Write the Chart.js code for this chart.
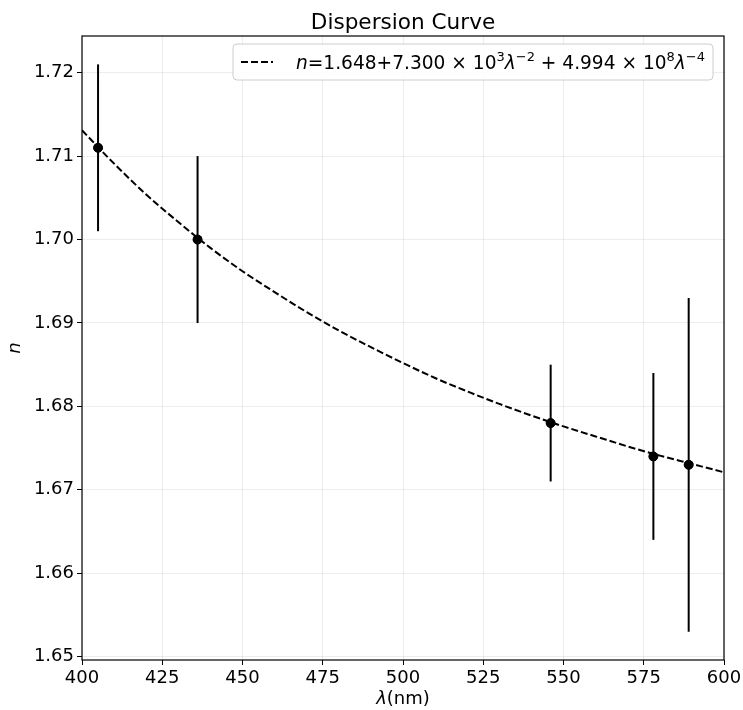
<!DOCTYPE html>
<html lang="en">
<head>
    <meta charset="UTF-8">
    <title>Dispersion Curve</title>
    <script src="https://cdn.jsdelivr.net/npm/chart.js"></script>
    <style>
        body { margin: 0; background: #fff; }
        #wrap { width: 743px; height: 710px; }
    </style>
</head>
<body>
    <div id="wrap"><canvas id="chart" width="743" height="710"></canvas></div>

    <script>
        // measured points (wavelength nm, refractive index, error)
        const wavelengths = [405, 436, 546, 578, 589];
        const indices = [1.711, 1.700, 1.678, 1.674, 1.673];
        const errors = [0.010, 0.010, 0.007, 0.010, 0.020];

        // fitted curve
        const fitX = [400, 410, 420, 430, 440, 450, 460, 470, 480, 490, 500, 510, 520, 530, 540, 550, 560, 570, 580, 590, 600];
        const fitY = [1.7131, 1.7091, 1.7054, 1.7021, 1.6990, 1.6962, 1.6937, 1.6913, 1.6891, 1.6871, 1.6852,
                      1.6834, 1.6818, 1.6803, 1.6789, 1.6776, 1.6764, 1.6752, 1.6741, 1.6731, 1.6721];

        const xTicks = [400, 425, 450, 475, 500, 525, 550, 575, 600];
        const yTicks = [1.65, 1.66, 1.67, 1.68, 1.69, 1.70, 1.71, 1.72];

        const FONT = "'DejaVu Sans', sans-serif";

        // error bars drawn with the chart's own scales
        const errorBars = {
            id: 'errorBars',
            afterDatasetsDraw(chart) {
                const { ctx, scales: { x, y } } = chart;
                ctx.save();
                ctx.strokeStyle = '#000';
                ctx.lineWidth = 2;
                wavelengths.forEach((w, i) => {
                    const px = x.getPixelForValue(w);
                    ctx.beginPath();
                    ctx.moveTo(px, y.getPixelForValue(indices[i] - errors[i]));
                    ctx.lineTo(px, y.getPixelForValue(indices[i] + errors[i]));
                    ctx.stroke();
                });
                // redraw points on top
                ctx.fillStyle = '#000';
                wavelengths.forEach((w, i) => {
                    ctx.beginPath();
                    ctx.arc(x.getPixelForValue(w), y.getPixelForValue(indices[i]), 4.5, 0, Math.PI * 2);
                    ctx.fill();
                });
                ctx.restore();
            }
        };

        // title, frame, x axis title and the legend
        const decorations = {
            id: 'decorations',
            afterDraw(chart) {
                const { ctx, chartArea: a } = chart;
                ctx.save();
                ctx.strokeStyle = '#000';
                ctx.lineWidth = 1.2;
                ctx.strokeRect(a.left, a.top, a.right - a.left, a.bottom - a.top);

                const cx = (a.left + a.right) / 2;
                ctx.fillStyle = '#000';
                ctx.textBaseline = 'alphabetic';

                // title centred over the plot area
                ctx.font = '21.6px ' + FONT;
                ctx.textAlign = 'center';
                ctx.fillText('Dispersion Curve', cx, 29);
                ctx.textAlign = 'left';

                // x title: italic lambda + (nm)
                ctx.font = 'italic 18px ' + FONT;
                const w1 = ctx.measureText('λ').width;
                ctx.font = '18px ' + FONT;
                const w2 = ctx.measureText('(nm)').width;
                let sx = cx - (w1 + w2) / 2;
                ctx.font = 'italic 18px ' + FONT;
                ctx.fillText('λ', sx, 704);
                ctx.font = '18px ' + FONT;
                ctx.fillText('(nm)', sx + w1, 704);

                // legend
                const parts = [
                    ['n', 'italic 18.6px', 0],
                    ['=1.648+7.300 × 10', '18.6px', 0],
                    ['3', '13px', -8],
                    ['λ', 'italic 18.6px', 0],
                    ['−2', '13px', -8],
                    [' + 4.994 × 10', '18.6px', 0],
                    ['8', '13px', -8],
                    ['λ', 'italic 18.6px', 0],
                    ['−4', '13px', -8]
                ];
                let tw = 0;
                parts.forEach(p => { ctx.font = p[1] + ' ' + FONT; tw += ctx.measureText(p[0]).width; });
                const bx = 233, by = 44, bh = 36;
                const bw = 296 - bx + tw + 8;
                ctx.fillStyle = 'rgba(255,255,255,0.85)';
                ctx.strokeStyle = '#cccccc';
                ctx.lineWidth = 1;
                ctx.beginPath();
                ctx.roundRect(bx, by, bw, bh, 4);
                ctx.fill();
                ctx.stroke();

                ctx.strokeStyle = '#000';
                ctx.lineWidth = 2;
                ctx.setLineDash([7, 3]);
                ctx.beginPath();
                ctx.moveTo(241, by + bh / 2);
                ctx.lineTo(273, by + bh / 2);
                ctx.stroke();
                ctx.setLineDash([]);

                ctx.fillStyle = '#000';
                let tx = 296;
                const base = by + bh / 2 + 7;
                parts.forEach(p => {
                    ctx.font = p[1] + ' ' + FONT;
                    ctx.fillText(p[0], tx, base + p[2]);
                    tx += ctx.measureText(p[0]).width;
                });
                ctx.restore();
            }
        };

        new Chart(document.getElementById('chart'), {
            type: 'scatter',
            data: {
                datasets: [{
                    type: 'line',
                    label: 'fit',
                    data: fitX.map((v, i) => ({ x: v, y: fitY[i] })),
                    borderColor: '#000',
                    borderWidth: 2,
                    borderDash: [7, 3],
                    pointRadius: 0,
                    cubicInterpolationMode: 'monotone',
                    fill: false
                }, {
                    label: 'data',
                    data: wavelengths.map((v, i) => ({ x: v, y: indices[i] })),
                    backgroundColor: '#000',
                    borderColor: '#000',
                    pointRadius: 4.5
                }]
            },
            options: {
                responsive: false,
                animation: false,
                layout: { padding: { left: 0, right: 19, top: 36, bottom: 0 } },
                plugins: {
                    legend: { display: false },
                    tooltip: { enabled: false },
                    title: { display: false }
                },
                scales: {
                    x: {
                        type: 'linear',
                        min: 400,
                        max: 600,
                        afterBuildTicks: s => { s.ticks = xTicks.map(v => ({ value: v })); },
                        afterFit: s => { s.height = 50; s.paddingLeft = 0; s.paddingRight = 0; },
                        ticks: { color: '#000', font: { family: FONT, size: 18 }, maxRotation: 0, padding: 3 },
                        grid: { color: 'rgba(0,0,0,0.07)', tickColor: '#000', tickLength: 5 },
                        border: { display: false }
                    },
                    y: {
                        type: 'linear',
                        min: 1.6496,
                        max: 1.7244,
                        afterBuildTicks: s => { s.ticks = yTicks.map(v => ({ value: v })); },
                        afterFit: s => { s.width = 82; s.paddingTop = 0; s.paddingBottom = 0; },
                        ticks: {
                            color: '#000',
                            font: { family: FONT, size: 18 },
                            padding: 3,
                            callback: v => v.toFixed(2)
                        },
                        grid: { color: 'rgba(0,0,0,0.07)', tickColor: '#000', tickLength: 5 },
                        border: { display: false },
                        title: {
                            display: true,
                            text: 'n',
                            color: '#000',
                            font: { family: FONT, size: 18, style: 'italic' },
                            padding: { top: 5, bottom: 0 }
                        }
                    }
                }
            },
            plugins: [errorBars, decorations]
        });
    </script>
</body>
</html>
